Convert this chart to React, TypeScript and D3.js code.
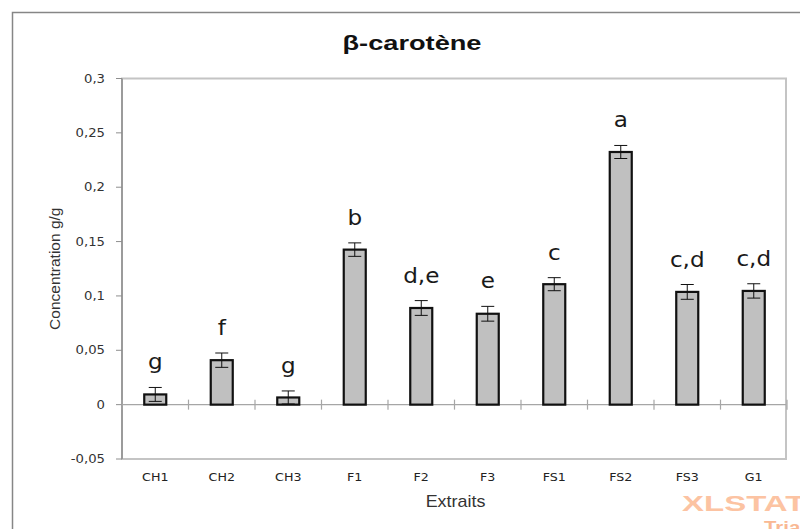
import * as d3 from "d3";

const WIDTH = 800;
const HEIGHT = 529;
const PLOT = { left: 122, right: 787, top: 78.5, bottom: 459 };

const categories = ["CH1", "CH2", "CH3", "F1", "F2", "F3", "FS1", "FS2", "FS3", "G1"];
const means = [0.0094, 0.0409, 0.0066, 0.1426, 0.0889, 0.0836, 0.1108, 0.2324, 0.1037, 0.1046];
const errors = [0.0064, 0.0066, 0.006, 0.0062, 0.0068, 0.0068, 0.006, 0.006, 0.0068, 0.0066];
const groups = ["g", "f", "g", "b", "d,e", "e", "c", "a", "c,d", "c,d"];
const yTicks = [-0.05, 0, 0.05, 0.1, 0.15, 0.2, 0.25, 0.3];

const SX = 1.15; // the picture is a bit wider than tall, stretch texts the same way
const fmt = (v: number) => String(+v.toFixed(2)).replace(".", ",");

const Stretched = ({ x, y, anchor = "middle", sx = SX, children, ...rest }: any) => (
  <text transform={`translate(${x},${y}) scale(${sx},1)`} textAnchor={anchor} {...rest}>
    {children}
  </text>
);

export default function App() {
  const xScale = d3.scaleBand().domain(categories).range([PLOT.left, PLOT.right]).padding(0);
  const yScale = d3.scaleLinear().domain([-0.05, 0.3]).range([PLOT.bottom, PLOT.top]);
  const bw = xScale.bandwidth();
  const barW = 22;
  const capW = 13;
  const y0 = yScale(0);
  const boundaries = d3.range(categories.length + 1).map((i) => PLOT.left + i * bw);

  return (
    <svg
      width={WIDTH}
      height={HEIGHT}
      style={{ position: "absolute", left: 0, top: 0, background: "#fff" }}
    >
      {/* chart frame */}
      <rect x={12.5} y={12.5} width={800} height={540} fill="#fff" stroke="#868686" strokeWidth={1.5} />

      <text
        x={412}
        y={50}
        textAnchor="middle"
        fontFamily="'Liberation Sans', Arial, sans-serif"
        fontWeight="bold"
        fontSize={21}
        textLength={139}
        lengthAdjust="spacingAndGlyphs"
        fill="#111"
      >
        β-carotène
      </text>

      {/* plot area border */}
      <rect
        x={PLOT.left}
        y={PLOT.top}
        width={PLOT.right - 1 - PLOT.left}
        height={PLOT.bottom - PLOT.top}
        fill="none"
        stroke="#c4c4c4"
        strokeWidth={2}
      />
      <line x1={PLOT.left} x2={PLOT.left} y1={PLOT.top} y2={PLOT.bottom} stroke="#8e8e8e" strokeWidth={1.5} />

      {/* y ticks */}
      {yTicks.map((t) => (
        <g key={t}>
          <line x1={PLOT.left - 6} x2={PLOT.left} y1={yScale(t)} y2={yScale(t)} stroke="#8e8e8e" />
          <Stretched
            x={105}
            y={yScale(t) + 4}
            anchor="end"
            fontFamily="'DejaVu Sans', Verdana, sans-serif"
            fontSize={11.5}
            fill="#333"
          >
            {fmt(t)}
          </Stretched>
        </g>
      ))}

      {/* zero line with category ticks */}
      <line x1={PLOT.left} x2={PLOT.right - 1} y1={y0} y2={y0} stroke="#a6a6a6" strokeWidth={1.2} />
      {boundaries.map((bx, i) => (
        <line key={i} x1={bx} x2={bx} y1={y0 - 5} y2={y0 + 5} stroke="#a6a6a6" strokeWidth={1.2} />
      ))}

      {/* bars, error bars, group letters */}
      {categories.map((c, i) => {
        const cx = (xScale(c) ?? 0) + bw / 2;
        const top = yScale(means[i]);
        const eTop = yScale(means[i] + errors[i]);
        const eBot = yScale(means[i] - errors[i]);
        return (
          <g key={c}>
            <rect
              x={cx - barW / 2}
              y={top}
              width={barW}
              height={y0 - top}
              fill="#c0c0c0"
              stroke="#111"
              strokeWidth={2.2}
            />
            <line x1={cx} x2={cx} y1={eTop} y2={eBot} stroke="#111" strokeWidth={1} />
            <line x1={cx - capW / 2} x2={cx + capW / 2} y1={eTop} y2={eTop} stroke="#111" strokeWidth={1} />
            <line x1={cx - capW / 2} x2={cx + capW / 2} y1={eBot} y2={eBot} stroke="#111" strokeWidth={1} />
            <Stretched
              x={cx}
              y={eTop - 18}
              sx={1.1}
              fontFamily="'DejaVu Sans', Verdana, sans-serif"
              fontSize={21}
              fill="#1a1a1a"
            >
              {groups[i]}
            </Stretched>
            <Stretched
              x={cx}
              y={481}
              fontFamily="'DejaVu Sans', Verdana, sans-serif"
              fontSize={11}
              fill="#222"
            >
              {c}
            </Stretched>
          </g>
        );
      })}

      {/* axis titles */}
      <Stretched
        x={455.5}
        y={506.5}
        sx={1.12}
        fontFamily="'Liberation Sans', Arial, sans-serif"
        fontSize={16}
        fill="#333"
      >
        Extraits
      </Stretched>
      <text
        transform={`translate(60,${(PLOT.top + PLOT.bottom) / 2}) rotate(-90)`}
        textAnchor="middle"
        fontFamily="'Liberation Sans', Arial, sans-serif"
        fontSize={15.5}
        fill="#333"
      >
        Concentration g/g
      </text>

      {/* trial watermark */}
      <Stretched
        x={682}
        y={511}
        anchor="start"
        sx={1.5}
        fontFamily="'Liberation Sans', Arial, sans-serif"
        fontWeight="bold"
        fontSize={22}
        fill="#fcc3a2"
      >
        XLSTAT
      </Stretched>
      <Stretched
        x={764}
        y={533}
        anchor="start"
        sx={1.2}
        fontFamily="'Liberation Sans', Arial, sans-serif"
        fontWeight="bold"
        fontSize={17}
        fill="#f9b893"
      >
        Trial
      </Stretched>
    </svg>
  );
}
